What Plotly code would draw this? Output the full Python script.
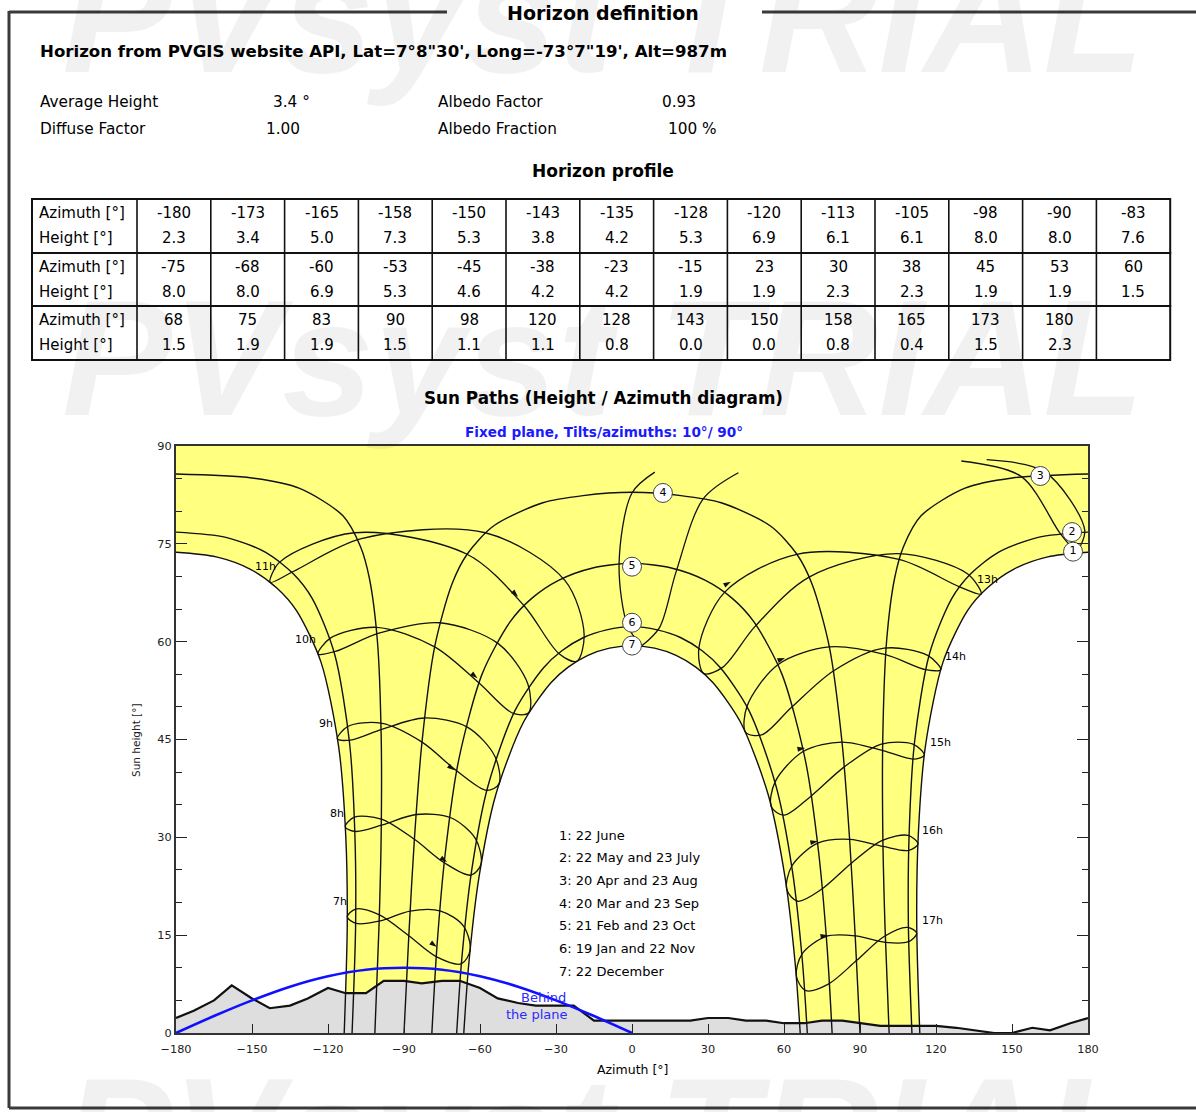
import plotly.graph_objects as go

# ---------------------------------------------------------------- page geometry
W, H = 1196, 1112
PLOT_L, PLOT_R, PLOT_T, PLOT_B = 176, 1088, 446, 1033
FONT = "DejaVu Sans, Liberation Sans, Arial, sans-serif"
MARK_FONT = "Liberation Sans, Arial, sans-serif"


def pxx(x):
    return (x - PLOT_L) / (PLOT_R - PLOT_L)


def pxy(y):
    return (PLOT_B - y) / (PLOT_B - PLOT_T)


# ---------------------------------------------------------------- horizon profile
HOR_AZ = [-180, -173, -165, -158, -150, -143, -135, -128, -120, -113, -105, -98, -90, -83,
          -75, -68, -60, -53, -45, -38, -23, -15, 23, 30, 38, 45, 53, 60,
          68, 75, 83, 90, 98, 120, 128, 143, 150, 158, 165, 173, 180]
HOR_H = [2.3, 3.4, 5.0, 7.3, 5.3, 3.8, 4.2, 5.3, 6.9, 6.1, 6.1, 8.0, 8.0, 7.6,
         8.0, 8.0, 6.9, 5.3, 4.6, 4.2, 4.2, 1.9, 1.9, 2.3, 2.3, 1.9, 1.9, 1.5,
         1.5, 1.9, 1.9, 1.5, 1.1, 1.1, 0.8, 0.0, 0.0, 0.8, 0.4, 1.5, 2.3]

# ---------------------------------------------------------------- sun paths (azimuth, height)
# 1: 22 June
PATH1_AM = [(-113.6, 0), (-112.4, 16.6), (-113.0, 30.3), (-115.8, 43.9), (-122.8, 56.9),
            (-132.5, 64.8), (-140.1, 68.2), (-150.6, 71.1), (-164.1, 73.0), (-180, 73.7)]
PATH1_PM = [(180, 73.7), (164.1, 73.0), (150.6, 71.1), (140.1, 68.2), (132.5, 64.8),
            (122.8, 56.9), (115.8, 43.9), (113.0, 30.3), (112.4, 16.6), (113.6, 0)]
# 2: 22 May and 23 July
PATH2_AM = [(-110.5, 0), (-109.1, 16.5), (-109.4, 30.6), (-111.5, 44.5), (-117.4, 58.1),
            (-126.2, 66.6), (-133.7, 70.4), (-144.6, 73.7), (-160.3, 76.0), (-180, 76.8)]
PATH2_PM = [(180, 76.8), (160.3, 76.0), (144.6, 73.7), (133.7, 70.4), (126.2, 66.6),
            (117.4, 58.1), (111.5, 44.5), (109.4, 30.6), (109.1, 16.5), (110.5, 0)]
# 3: 20 Apr and 23 Aug
PATH3_AM = [(-101.5, 0), (-99.9, 16.0), (-99.0, 30.7), (-99.0, 45.4), (-100.5, 60.1),
            (-103.7, 69.8), (-107.2, 74.6), (-114.1, 79.3), (-131.2, 83.5), (-150.1, 85.1),
            (-180, 85.7)]
PATH3_PM = [(180, 85.7), (150.1, 85.1), (131.2, 83.5), (114.1, 79.3), (107.2, 74.6),
            (103.7, 69.8), (100.5, 60.1), (99.0, 45.4), (99.0, 30.7), (99.9, 16.0),
            (101.5, 0)]
# 4: 20 Mar and 23 Sep
PATH4 = [(-90, 0), (-88.1, 14.9), (-85.9, 29.7), (-82.9, 44.6), (-77.9, 59.2), (-71.1, 68.8),
         (-65.1, 73.4), (-54.8, 77.7), (-35.2, 81.3), (-19.3, 82.4), (0, 82.9), (19.3, 82.4),
         (35.2, 81.3), (54.8, 77.7), (65.1, 73.4), (71.1, 68.8), (77.9, 59.2), (82.9, 44.6),
         (85.9, 29.7), (88.1, 14.9), (90, 0)]
# 5: 21 Feb and 23 Oct
PATH5 = [(-79.0, 0), (-77.0, 13.2), (-73.7, 27.6), (-68.5, 41.7), (-59.1, 55.1), (-48.0, 63.1),
         (-39.7, 66.6), (-29.0, 69.4), (-15.5, 71.3), (0, 72.0), (15.5, 71.3), (29.0, 69.4),
         (39.7, 66.6), (48.0, 63.1), (59.1, 55.1), (68.5, 41.7), (73.7, 27.6), (77.0, 13.2),
         (79.0, 0)]
# 6: 19 Jan and 22 Nov
PATH6 = [(-69.2, 0), (-67.2, 11.3), (-63.3, 24.9), (-56.9, 37.8), (-46.1, 49.5), (-34.9, 56.0),
         (-27.7, 58.6), (-19.3, 60.6), (-10.0, 61.8), (0, 62.3), (10.0, 61.8), (19.3, 60.6),
         (27.7, 58.6), (34.9, 56.0), (46.1, 49.5), (56.9, 37.8), (63.3, 24.9), (67.2, 11.3),
         (69.2, 0)]
# 7: 22 December
PATH7 = [(-66.4, 0), (-64.4, 10.7), (-60.4, 23.9), (-53.8, 36.5), (-42.9, 47.6), (-32.0, 53.7),
         (-25.2, 56.1), (-17.4, 57.9), (-8.9, 59.0), (0, 59.4), (8.9, 59.0), (17.4, 57.9),
         (25.2, 56.1), (32.0, 53.7), (42.9, 47.6), (53.8, 36.5), (60.4, 23.9), (64.4, 10.7),
         (66.4, 0)]

# ---------------------------------------------------------------- hour lines (legal time)
# points in date order: Dec, Jan, Feb, Mar, Apr, May, Jun, Jul, Aug, Sep, Oct, Nov, Dec
HOUR_07 = [(-63.9, 12.7), (-67.4, 10.6), (-77.3, 11.7), (-88.1, 14.9), (-99.7, 18.1), (-109.1, 19.0),
           (-112.4, 17.8), (-108.8, 16.8), (-99.4, 17.2), (-87.6, 18.7), (-75.5, 18.7), (-66.5, 16.4),
           (-63.9, 12.7)]
HOUR_08 = [(-59.6, 25.9), (-63.6, 24.2), (-74.1, 26.1), (-85.9, 29.7), (-99.0, 32.8), (-109.6, 33.1),
           (-113.2, 31.6), (-109.1, 30.9), (-98.5, 31.9), (-85.2, 33.5), (-71.5, 33.0), (-61.8, 29.8),
           (-59.6, 25.9)]
HOUR_09 = [(-52.5, 38.2), (-57.3, 37.2), (-69.2, 40.2), (-82.9, 44.6), (-99.1, 47.5), (-112.2, 47.0),
           (-116.3, 45.1), (-111.2, 44.9), (-98.5, 46.6), (-81.9, 48.3), (-65.0, 46.9), (-54.1, 42.4),
           (-52.5, 38.2)]
HOUR_10 = [(-40.8, 49.1), (-46.9, 49.0), (-60.5, 53.7), (-77.9, 59.2), (-100.9, 62.2), (-119.2, 60.5),
           (-123.9, 58.1), (-117.1, 58.5), (-99.9, 61.3), (-75.8, 62.9), (-52.8, 59.7), (-41.1, 53.5),
           (-40.8, 49.1)]
HOUR_11 = [(-21.8, 57.0), (-28.9, 58.2), (-42.6, 65.5), (-65.1, 73.4), (-109.5, 76.7), (-139.1, 72.2),
           (-142.8, 69.1), (-133.5, 70.8), (-106.8, 75.8), (-57.9, 76.7), (-26.5, 69.4), (-18.9, 61.1),
           (-21.8, 57.0)]
HOUR_13 = [(28.4, 55.1), (26.4, 59.0), (36.6, 67.6), (65.1, 73.4), (105.4, 72.6), (129.3, 68.4),
           (137.8, 67.3), (132.4, 70.4), (104.8, 73.5), (69.9, 69.9), (48.5, 62.3), (35.9, 56.1),
           (28.4, 55.1)]
HOUR_14 = [(44.9, 46.1), (45.4, 50.1), (57.7, 56.5), (77.9, 59.2), (100.1, 58.0), (115.9, 55.7),
           (121.9, 55.7), (116.7, 57.9), (99.5, 59.0), (79.5, 55.5), (62.9, 49.9), (51.2, 45.7),
           (44.9, 46.1)]
HOUR_15 = [(55.0, 34.7), (56.5, 38.5), (67.7, 43.2), (82.9, 44.6), (99.0, 43.3), (111.0, 42.0),
           (115.4, 42.6), (110.9, 44.3), (98.4, 44.3), (83.8, 40.8), (70.3, 36.2), (60.0, 33.4),
           (55.0, 34.7)]
HOUR_16 = [(61.1, 22.0), (63.1, 25.6), (73.3, 29.1), (85.9, 29.7), (99.1, 28.6), (109.2, 28.0),
           (112.9, 29.0), (109.0, 30.3), (98.6, 29.5), (86.5, 26.0), (74.7, 22.0), (65.4, 20.2),
           (61.1, 22.0)]
HOUR_17 = [(64.9, 8.7), (67.1, 12.1), (76.7, 14.8), (88.1, 14.9), (100.0, 13.9), (109.2, 14.0),
           (112.4, 15.3), (108.8, 16.2), (99.5, 14.8), (88.6, 11.1), (77.5, 7.5), (68.6, 6.5),
           (64.9, 8.7)]
# 12h line, drawn in pieces around the zenith
HOUR_12_A = [(4.0, 59.4), (-1.6, 62.3), (-5.1, 71.9), (0.0, 82.8), (9.0, 86.0)]
HOUR_12_B = [(4.0, 59.4), (10.9, 62.2), (17.4, 70.7), (28.1, 81.9), (42.0, 85.9)]
HOUR_12_C = [(130.0, 87.7), (153.7, 85.3), (169.0, 76.6), (175.4, 73.6)]
HOUR_12_D = [(140.0, 87.9), (163.1, 86.0), (178.7, 77.1), (175.4, 73.6)]

HOUR_LABELS = ["7h", "8h", "9h", "10h", "11h", "13h", "14h", "15h", "16h", "17h"]
HOUR_LABEL_AZ = [-111.7, -112.8, -117.1, -123.8, -139.6, 135.4, 122.8, 116.9, 113.7, 113.7]
HOUR_LABEL_H = [20.1, 33.7, 47.4, 60.3, 71.5, 69.5, 57.8, 44.6, 31.1, 17.3]

ARROW_AZ = [-77.0, -73.0, -70.0, -61.0, -45.0, 39.0, 60.4, 68.3, 73.4, 77.4]
ARROW_H = [13.2, 26.2, 40.3, 54.4, 66.9, 69.2, 57.5, 43.7, 29.4, 15.0]
ARROW_DIR = [125, 125, 125, 130, 135, 60, 70, 80, 80, 80]

DATE_TAGS = ["1", "2", "3", "4", "5", "6", "7"]
DATE_TAG_AZ = [174.1, 173.7, 161.2, 12.2, 0.0, 0.0, 0.0]
DATE_TAG_H = [73.8, 76.8, 85.4, 82.8, 71.5, 62.9, 59.4]

LEGEND_LINES = ["1: 22 June", "2: 22 May and 23 July", "3: 20 Apr and 23 Aug",
                "4: 20 Mar and 23 Sep", "5: 21 Feb and 23 Oct", "6: 19 Jan and 22 Nov",
                "7: 22 December"]

# plane 10° tilt / 90° azimuth: limit behind which the sun is behind the plane
PLANE_AZ = [-180, -165, -150, -135, -120, -105, -90, -75, -60, -45, -30, -15, 0]
PLANE_H = [0.0, 2.6, 5.0, 7.1, 8.7, 9.7, 10.0, 9.7, 8.7, 7.1, 5.0, 2.6, 0.0]

X_TICKS = [-180, -150, -120, -90, -60, -30, 0, 30, 60, 90, 120, 150, 180]
Y_TICKS = [0, 15, 30, 45, 60, 75, 90]


def xs(pts):
    return [p[0] for p in pts]


def ys(pts):
    return [p[1] for p in pts]


fig = go.Figure()

# yellow band: everything between the June and December paths.
# Each piece repeats its end points so the spline keeps sharp joints.
band = []
for seg in [[(X_TICKS[0], Y_TICKS[-1]), (X_TICKS[-1], Y_TICKS[-1])], PATH1_PM, PATH7[::-1], PATH1_AM]:
    band += [seg[0]] + seg + [seg[-1]]
fig.add_trace(go.Scatter(
    x=xs(band), y=ys(band), mode="lines",
    line=dict(width=0, shape="spline", smoothing=0.8, simplify=False),
    fill="toself", fillcolor="#ffff80", hoverinfo="skip"))

# far horizon (grey)
fig.add_trace(go.Scatter(
    x=HOR_AZ, y=HOR_H, mode="lines", line=dict(width=0), fill="tozeroy",
    fillcolor="#dedede", hoverinfo="skip"))

line_style = dict(color="#111111", width=1.4, shape="spline", smoothing=0.8)
for path in [PATH1_AM, PATH1_PM, PATH2_AM, PATH2_PM, PATH3_AM, PATH3_PM,
             PATH4, PATH5, PATH6, PATH7]:
    fig.add_trace(go.Scatter(x=xs(path), y=ys(path), mode="lines", line=line_style,
                             hoverinfo="skip"))

for hl in [HOUR_07, HOUR_08, HOUR_09, HOUR_10, HOUR_11,
           HOUR_13, HOUR_14, HOUR_15, HOUR_16, HOUR_17,
           HOUR_12_A, HOUR_12_B, HOUR_12_C, HOUR_12_D]:
    fig.add_trace(go.Scatter(x=xs(hl), y=ys(hl), mode="lines",
                             line=dict(color="#111111", width=1.3, shape="spline", smoothing=0.9),
                             hoverinfo="skip"))

# horizon line
fig.add_trace(go.Scatter(x=HOR_AZ, y=HOR_H, mode="lines",
                         line=dict(color="#111111", width=2.2), hoverinfo="skip"))

# behind-the-plane limit
fig.add_trace(go.Scatter(x=PLANE_AZ, y=PLANE_H, mode="lines",
                         line=dict(color="#1010ff", width=2.6, shape="spline"),
                         hoverinfo="skip"))

# direction arrows on the hour lines
fig.add_trace(go.Scatter(x=ARROW_AZ, y=ARROW_H, mode="markers",
                         marker=dict(symbol="arrow", size=8, angle=ARROW_DIR, color="#111"),
                         hoverinfo="skip"))

# date tags in white circles
fig.add_trace(go.Scatter(
    x=DATE_TAG_AZ, y=DATE_TAG_H, mode="markers+text", text=DATE_TAGS,
    textposition="middle center", textfont=dict(family=FONT, size=11, color="black"),
    marker=dict(size=19, color="white", line=dict(color="#444", width=1)),
    cliponaxis=False, hoverinfo="skip"))

# ---------------------------------------------------------------- page decorations
ann = []
shapes = []

# watermark
for cy in [15, 358, 1136]:
    ann.append(dict(x=pxx(603), y=pxy(cy), xref="paper", yref="paper",
                    text="<b><i>PVsyst TRIAL</i></b>", showarrow=False,
                    font=dict(family=MARK_FONT, size=165, color="rgba(0,0,0,0.055)"),
                    xanchor="center", yanchor="middle"))

# hour captions
for lab, a, hv in zip(HOUR_LABELS, HOUR_LABEL_AZ, HOUR_LABEL_H):
    ann.append(dict(x=a, y=hv, xref="x", yref="y", text=lab, showarrow=False,
                    font=dict(family=FONT, size=11, color="black"),
                    xanchor="right" if a < 0 else "left", yanchor="middle"))

# frame and header rule
for x0, y0, x1, y1, w in [(9, 12, 447, 12, 3), (762, 12, 1196, 12, 3), (9, 11, 9, 1108, 3),
                          (9, 1108, 1196, 1108, 3)]:
    shapes.append(dict(type="line", xref="paper", yref="paper", x0=pxx(x0), y0=pxy(y0),
                       x1=pxx(x1), y1=pxy(y1), line=dict(color="#3a3a3a", width=w)))


def text(x, y, s, size=13, bold=False, color="black", anchor="left"):
    if bold:
        s = "<b>" + s + "</b>"
    ann.append(dict(x=pxx(x), y=pxy(y), xref="paper", yref="paper", text=s, showarrow=False,
                    font=dict(family=FONT, size=size, color=color), xanchor=anchor,
                    yanchor="middle"))


text(603, 13, "Horizon definition", size=19, bold=True, anchor="center")
text(38, 51, "Horizon from PVGIS website API, Lat=7°8\"30', Long=-73°7\"19', Alt=987m", size=16.6, bold=True)
text(38, 102, "Average Height", size=15.3)
text(271, 102, "3.4 °", size=15.3)
text(436, 102, "Albedo Factor", size=15.3)
text(660, 102, "0.93", size=15.3)
text(38, 129, "Diffuse Factor", size=15.3)
text(264, 129, "1.00", size=15.3)
text(436, 129, "Albedo Fraction", size=15.3)
text(666, 129, "100 %", size=15.3)
text(603, 171, "Horizon profile", size=17, bold=True, anchor="center")

# horizon table
TAB_X0, TAB_XD, COL_W = 32, 137, 73.8
ROW_TOPS = [199, 253, 306, 360]
n_cols = 14
tab_x1 = TAB_XD + n_cols * COL_W
for r in range(3):
    y0, y1 = ROW_TOPS[r], ROW_TOPS[r + 1]
    shapes.append(dict(type="rect", xref="paper", yref="paper", x0=pxx(TAB_X0), x1=pxx(tab_x1),
                       y0=pxy(y0), y1=pxy(y1), line=dict(color="#111", width=2)))
    for c in range(n_cols):
        xb = TAB_XD + c * COL_W
        shapes.append(dict(type="line", xref="paper", yref="paper", x0=pxx(xb), x1=pxx(xb),
                           y0=pxy(y0), y1=pxy(y1), line=dict(color="#111", width=1.6)))
    text(37, y0 + 14, "Azimuth [°]", size=15)
    text(37, y0 + 39, "Height [°]", size=15)
    az_row = HOR_AZ[r * n_cols:(r + 1) * n_cols]
    h_row = HOR_H[r * n_cols:(r + 1) * n_cols]
    for c, (a, hv) in enumerate(zip(az_row, h_row)):
        cx = TAB_XD + (c + 0.5) * COL_W
        text(cx, y0 + 14, str(a), size=15, anchor="center")
        text(cx, y0 + 39, f"{hv:.1f}", size=15, anchor="center")

text(603, 398, "Sun Paths (Height / Azimuth diagram)", size=16.8, bold=True, anchor="center")
text(604, 432, "Fixed plane, Tilts/azimuths: 10°/ 90°", size=13.6, bold=True, color="#1a1aff",
     anchor="center")

# legend of the dates
for i, s in enumerate(LEGEND_LINES):
    text(557, 835 + i * 22.7, s, size=13)

text(543, 997, "Behind", size=13, color="#2a2aff", anchor="center")
text(537, 1014, "the plane", size=13, color="#2a2aff", anchor="center")

text(632, 1069, "Azimuth [°]", size=12.5, anchor="center")
ann.append(dict(x=pxx(136), y=pxy(740), xref="paper", yref="paper", text="Sun height [°]",
                showarrow=False, textangle=-90, font=dict(family=FONT, size=10.5, color="#222"),
                xanchor="center", yanchor="middle"))

fig.update_layout(
    width=W, height=H, paper_bgcolor="white", plot_bgcolor="white", showlegend=False,
    margin=dict(l=PLOT_L, r=W - PLOT_R, t=PLOT_T, b=H - PLOT_B),
    annotations=ann, shapes=shapes,
    xaxis=dict(range=[-180, 180], tickvals=X_TICKS, ticks="inside", ticklen=9, tickwidth=1.2,
               tickcolor="#222", showline=True, linecolor="#333", linewidth=2, mirror=True,
               showgrid=False, zeroline=False, ticklabelstandoff=4,
               tickfont=dict(family=FONT, size=11.3, color="#222")),
    yaxis=dict(range=[0, 90], tickvals=Y_TICKS, ticks="inside", ticklen=11, tickwidth=1.2,
               tickcolor="#222", showline=True, linecolor="#333", linewidth=2, mirror="ticks",
               showgrid=False, zeroline=False, tickfont=dict(family=FONT, size=11.3, color="#222"),
               minor=dict(tickvals=list(range(5, 90, 5)), ticks="inside", ticklen=6,
                          tickcolor="#222")),
)

fig.write_html("out.html")
